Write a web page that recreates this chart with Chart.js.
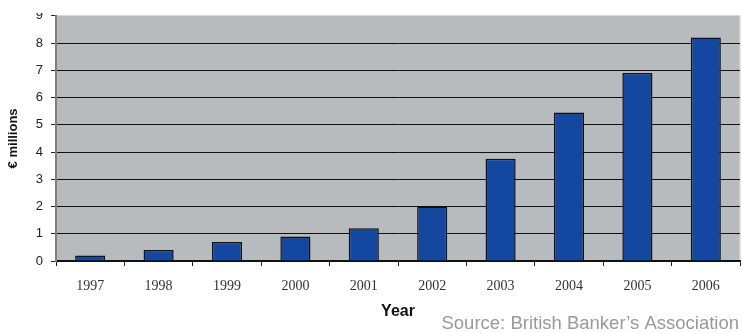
<!DOCTYPE html>
<html>
<head>
<meta charset="utf-8">
<script src="https://cdn.jsdelivr.net/npm/chart.js@4"></script>
<style>
  html, body { margin: 0; padding: 0; background: #fff; }
  #wrap { width: 742px; height: 333px; }
</style>
</head>
<body>
<div id="wrap"><canvas id="chart" width="742" height="333"></canvas></div>
<script>
const years = ["1997", "1998", "1999", "2000", "2001", "2002", "2003", "2004", "2005", "2006"];
const valuesMillions = [0.2, 0.4, 0.7, 0.9, 1.2, 2.0, 3.75, 5.45, 6.9, 8.2];
const sourceNote = "Source: British Banker\u2019s Association";

Chart.defaults.font.family = "'Liberation Sans', Arial, sans-serif";

// grey plot background, and the source line under the chart
const plotFrame = {
  id: "plotFrame",
  beforeDraw(chart) {
    const { ctx, chartArea: a } = chart;
    ctx.save();
    ctx.fillStyle = "#b7bbbe";
    ctx.fillRect(a.left, a.top, a.right - a.left, a.bottom - a.top);
    ctx.strokeStyle = "#d6d8da";
    ctx.lineWidth = 1.5;
    ctx.beginPath();
    ctx.moveTo(a.right, a.top);
    ctx.lineTo(a.right, a.bottom);
    ctx.stroke();
    ctx.restore();
  },
  afterDraw(chart) {
    const { ctx } = chart;
    ctx.save();
    // top strip is trimmed off
    ctx.fillStyle = "#fff";
    ctx.fillRect(0, 0, 54, 13);
    ctx.font = "18.5px 'Liberation Sans', Arial, sans-serif";
    ctx.fillStyle = "#999";
    ctx.textAlign = "right";
    ctx.textBaseline = "alphabetic";
    ctx.fillText(sourceNote, 739, 329);
    ctx.restore();
  }
};

new Chart(document.getElementById("chart"), {
  type: "bar",
  data: {
    labels: years,
    datasets: [{
      data: valuesMillions,
      backgroundColor: "#1447a0",
      borderColor: "#111",
      borderWidth: 1.5,
      categoryPercentage: 1,
      barPercentage: 0.44
    }]
  },
  options: {
    responsive: false,
    animation: false,
    layout: { padding: { top: 14, right: 2, left: 0, bottom: 0 } },
    plugins: { legend: { display: false }, tooltip: { enabled: false } },
    scales: {
      x: {
        afterFit(scale) { scale.height = 72; },
        grid: { drawOnChartArea: false, drawTicks: true, tickLength: 5, tickColor: "#222" },
        border: { color: "#111", width: 1.5 },
        ticks: {
          color: "#333",
          padding: 12,
          font: { family: "'Liberation Serif', 'Times New Roman', serif", size: 14 }
        },
        title: {
          display: true,
          text: "Year",
          color: "#111",
          font: { size: 16, weight: "bold" },
          padding: { top: 0, bottom: 12 }
        }
      },
      y: {
        min: 0,
        max: 9,
        afterFit(scale) { scale.width = 56; },
        grid: {
          color: (c) => (c.tick && c.tick.value === 9 ? "#d6d8da" : "#111"),
          lineWidth: 1,
          tickLength: 5,
          tickColor: "#222"
        },
        border: { color: "#7d7f81", width: 2 },
        ticks: {
          stepSize: 1,
          color: "#222",
          padding: 8,
          font: { size: 13 }
        },
        title: {
          display: true,
          text: "\u20ac millions",
          color: "#111",
          font: { size: 13, weight: "bold" },
          padding: { top: 6, bottom: 0 }
        }
      }
    }
  },
  plugins: [plotFrame]
});
</script>
</body>
</html>
